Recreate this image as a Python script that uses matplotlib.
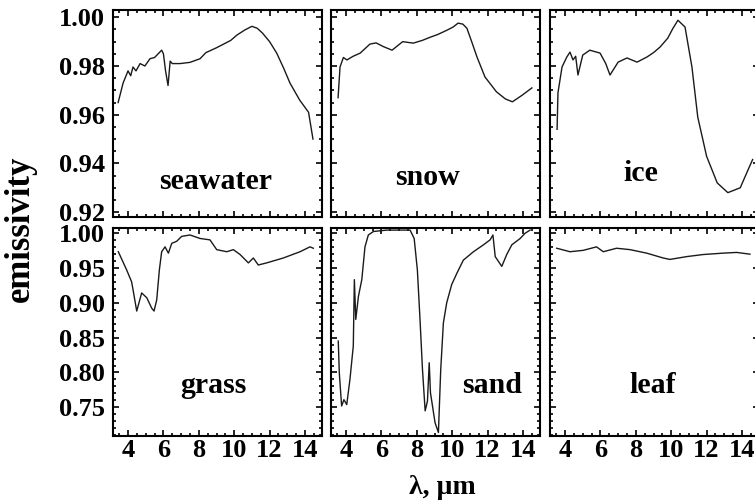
import numpy as np
import matplotlib.pyplot as plt
from matplotlib.ticker import MultipleLocator

# emissivity spectra, wavelength in um
seawater_x = [3.44, 3.72, 4.0, 4.15, 4.28, 4.45, 4.68, 4.95, 5.24, 5.5, 5.9, 6.0, 6.12, 6.26, 6.38, 6.5, 6.94, 7.5, 8.07, 8.4, 8.7, 9.0, 9.4, 9.8, 10.15, 10.6, 11.0, 11.3, 11.6, 12.0, 12.4, 12.8, 13.15, 13.7, 14.2, 14.45]
seawater_y = [0.965, 0.973, 0.978, 0.976, 0.9796, 0.978, 0.981, 0.980, 0.983, 0.9835, 0.9865, 0.985, 0.978, 0.972, 0.982, 0.981, 0.981, 0.9815, 0.983, 0.9855, 0.9865, 0.9875, 0.989, 0.9905, 0.9927, 0.9948, 0.9963, 0.9955, 0.9935, 0.990, 0.9853, 0.979, 0.973, 0.966, 0.961, 0.950]

snow_x = [3.55, 3.66, 3.85, 4.05, 4.4, 4.8, 5.35, 5.7, 6.1, 6.6, 7.2, 7.8, 8.3, 8.75, 9.2, 9.7, 10.05, 10.33, 10.6, 10.83, 11.1, 11.4, 11.85, 12.5, 13.0, 13.4, 13.95, 14.5]
snow_y = [0.967, 0.9796, 0.9835, 0.9825, 0.984, 0.9853, 0.989, 0.9895, 0.988, 0.9865, 0.990, 0.9894, 0.9905, 0.9918, 0.993, 0.9947, 0.996, 0.9976, 0.9972, 0.9955, 0.990, 0.9837, 0.9755, 0.9694, 0.9665, 0.9653, 0.968, 0.971]

ice_x = [3.55, 3.6, 3.83, 4.1, 4.28, 4.45, 4.6, 4.73, 5.0, 5.4, 5.98, 6.3, 6.54, 7.0, 7.5, 8.07, 8.63, 9.0, 9.37, 9.8, 10.1, 10.38, 10.78, 11.17, 11.5, 12.0, 12.6, 13.2, 13.9, 14.35, 14.6]
ice_y = [0.954, 0.969, 0.9796, 0.9837, 0.9857, 0.9825, 0.984, 0.9763, 0.9845, 0.9865, 0.9853, 0.981, 0.9763, 0.9816, 0.9833, 0.9816, 0.9837, 0.9855, 0.9878, 0.9914, 0.9955, 0.9988, 0.996, 0.9796, 0.959, 0.9429, 0.932, 0.928, 0.930, 0.9375, 0.9416]

grass_x = [3.45, 3.92, 4.2, 4.3, 4.49, 4.77, 5.06, 5.34, 5.47, 5.62, 5.77, 5.9, 6.09, 6.28, 6.47, 6.75, 7.03, 7.5, 8.07, 8.63, 9.01, 9.58, 9.95, 10.33, 10.8, 11.08, 11.36, 11.83, 12.77, 13.72, 14.28, 14.47]
grass_y = [0.973, 0.947, 0.930, 0.916, 0.888, 0.914, 0.907, 0.892, 0.888, 0.904, 0.947, 0.973, 0.980, 0.971, 0.985, 0.988, 0.995, 0.997, 0.992, 0.990, 0.976, 0.973, 0.976, 0.969, 0.957, 0.964, 0.954, 0.957, 0.964, 0.973, 0.980, 0.978]

sand_x = [3.56, 3.62, 3.75, 3.88, 4.04, 4.22, 4.41, 4.47, 4.55, 4.70, 4.89, 5.07, 5.26, 5.55, 6.3, 7.62, 7.85, 8.03, 8.18, 8.32, 8.47, 8.6, 8.7, 8.77, 9.03, 9.22, 9.35, 9.5, 9.69, 9.97, 10.26, 10.63, 11.2, 11.77, 12.14, 12.3, 12.43, 12.8, 13.08, 13.37, 13.84, 14.12, 14.4]
sand_y = [0.845, 0.799, 0.752, 0.761, 0.754, 0.790, 0.838, 0.933, 0.876, 0.909, 0.933, 0.980, 0.997, 1.002, 1.004, 1.004, 0.992, 0.947, 0.876, 0.804, 0.745, 0.759, 0.814, 0.771, 0.728, 0.714, 0.804, 0.871, 0.900, 0.926, 0.942, 0.961, 0.973, 0.983, 0.990, 0.997, 0.966, 0.952, 0.969, 0.983, 0.992, 0.9995, 1.004]

leaf_x = [3.53, 4.28, 5.03, 5.78, 6.16, 6.91, 7.67, 8.61, 9.55, 9.93, 10.87, 11.81, 12.94, 13.7, 14.45]
leaf_y = [0.978, 0.973, 0.975, 0.980, 0.973, 0.978, 0.976, 0.971, 0.964, 0.962, 0.966, 0.969, 0.971, 0.972, 0.9695]

names = ["seawater", "snow", "ice", "grass", "sand", "leaf"]
xs = [seawater_x, snow_x, ice_x, grass_x, sand_x, leaf_x]
ys = [seawater_y, snow_y, ice_y, grass_y, sand_y, leaf_y]
label_pos = [(0.49, 0.17), (0.46, 0.19), (0.435, 0.21), (0.48, 0.245), (0.77, 0.245), (0.49, 0.245)]

plt.rcParams['font.family'] = ['Liberation Serif', 'DejaVu Serif']
plt.rcParams['font.weight'] = 'bold'

fig = plt.figure(figsize=(7.55, 5), dpi=100)
lefts = [113/755, 331/755, 550/755]   # third column runs off the right edge
w = 209/755
bottoms = [283/500, 64/500]
h = [207/500, 208/500]

for i in range(6):
    row, col = i // 3, i % 3
    ax = fig.add_axes([lefts[col], bottoms[row], w, h[row]])
    ax.plot(xs[i], ys[i], color="#1a1a1a", linewidth=1.0)
    ax.set_xlim(3.15, 14.96)
    if row == 0:
        ax.set_ylim(0.918, 1.003)
        ax.yaxis.set_major_locator(MultipleLocator(0.02))
        ax.yaxis.set_minor_locator(MultipleLocator(0.005))
    else:
        ax.set_ylim(0.709, 1.007)
        ax.yaxis.set_major_locator(MultipleLocator(0.05))
        ax.yaxis.set_minor_locator(MultipleLocator(0.01))
    ax.xaxis.set_major_locator(MultipleLocator(2))
    ax.xaxis.set_minor_locator(MultipleLocator(0.5))
    ax.tick_params(which="both", direction="in", top=True, right=True, labelsize=19, width=1.2)
    ax.tick_params(which="major", length=4)
    ax.tick_params(which="minor", length=2)
    for s in ax.spines.values():
        s.set_linewidth(1.5)
    ax.yaxis.set_major_formatter(plt.FormatStrFormatter("%.2f"))
    if col != 0:
        ax.set_yticklabels([])
    if row == 0:
        ax.set_xticklabels([])
    ax.tick_params(axis="x", pad=2.5)
    ax.tick_params(axis="y", pad=6)
    ax.text(label_pos[i][0], label_pos[i][1], names[i], transform=ax.transAxes,
            ha="center", va="center", fontsize=21.5, fontweight="bold")

fig.text(20/755, 1 - 229/500, "emissivity", rotation=90, ha="center", va="center", fontsize=25, fontweight="bold")
fig.text(442/755, 1 - 488/500, "λ, µm", ha="center", va="center", fontsize=20, fontweight="bold")

plt.savefig("out.png", dpi=100)
